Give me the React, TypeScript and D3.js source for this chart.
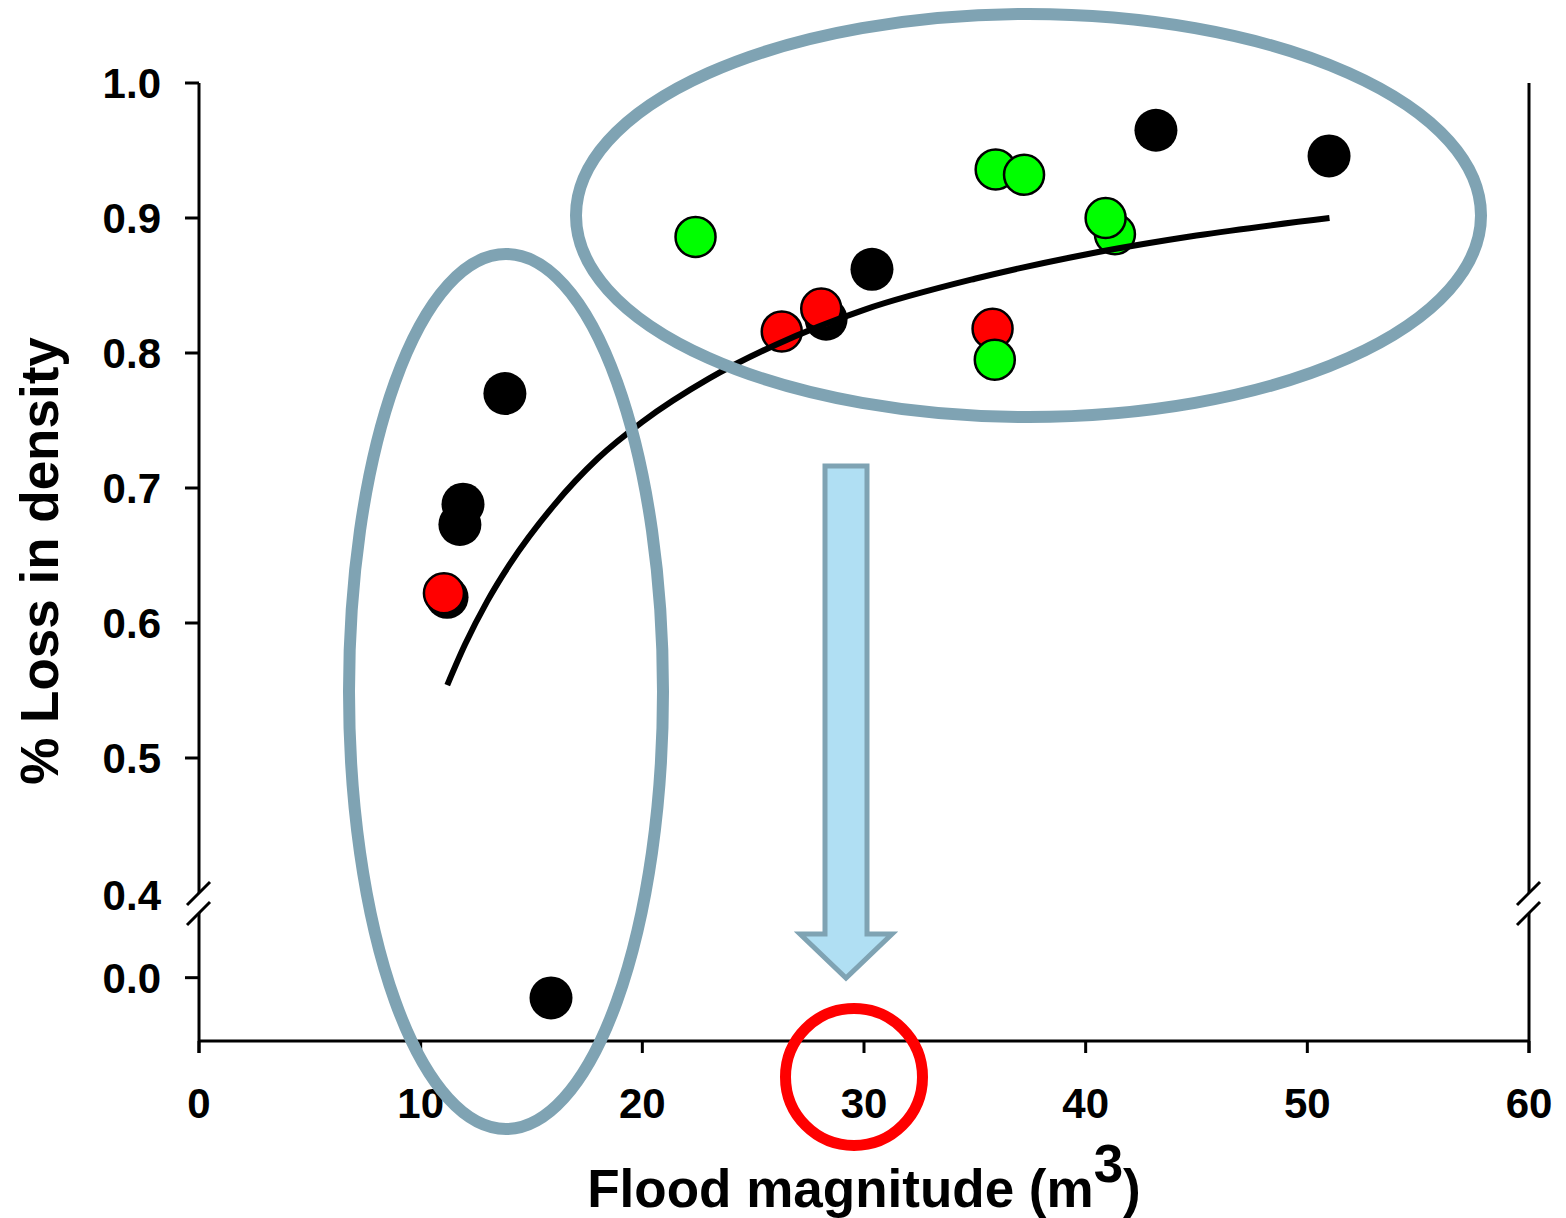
import React from "react";
import * as d3 from "d3";

// ---- data ----
const blackX = [43.17, 50.98, 30.36, 28.29, 13.8, 11.91, 11.77, 11.19, 15.88];
const blackY = [0.965, 0.946, 0.862, 0.825, 0.770, 0.688, 0.673, 0.619, -0.015];
const redX = [26.29, 11.05, 35.8, 28.07];
const redY = [0.816, 0.622, 0.818, 0.833];
const greenX = [22.4, 35.94, 37.22, 41.32, 40.9, 35.9];
const greenY = [0.886, 0.936, 0.932, 0.888, 0.900, 0.795];
const trendX = [11.2, 12, 13, 14, 16, 18, 20, 23, 26, 30, 35, 40, 45, 51];
const trendY = [0.554, 0.584, 0.616, 0.643, 0.687, 0.722, 0.749, 0.781, 0.806, 0.832, 0.855, 0.873, 0.887, 0.9];
const xTicks = [0, 10, 20, 30, 40, 50, 60];
const yTicksTop = [1.0, 0.9, 0.8, 0.7, 0.6, 0.5];
const yTickBreakLabel = 0.4;
const yTicksBottom = [0.0];

const FONT = "'Liberation Sans', Arial, Helvetica, sans-serif";
const ANNOT = "#7fa3b3";

export default function App() {
  const W = 1566, H = 1218;
  const left = 199, right = 1529, top = 83, bottom = 1041;
  const x = d3.scaleLinear().domain([0, 60]).range([left, right]);
  const yTop = d3.scaleLinear().domain([0.4, 1.0]).range([893, top]);
  const yBot = d3.scaleLinear().domain([-0.047, 0.048]).range([bottom, 913]);
  const y = (v: number) => (v >= 0.3 ? yTop(v) : yBot(v));

  const trend = d3
    .line<number>()
    .x((_, i) => x(trendX[i]))
    .y((d) => yTop(d))
    .curve(d3.curveMonotoneX)(trendY) as string;

  const breakTopEnd = 893;
  const breakBotStart = 913;
  const slashes = (ax: number) => (
    <g stroke="#000" strokeWidth={3}>
      <line x1={ax - 12} y1={905} x2={ax + 11} y2={882} />
      <line x1={ax - 12} y1={925} x2={ax + 11} y2={902} />
    </g>
  );

  const dot = (cx: number, cy: number, fill: string, key: string, outlined: boolean) => (
    <circle
      key={key}
      cx={x(cx)}
      cy={y(cy)}
      r={outlined ? 20 : 21.5}
      fill={fill}
      stroke={outlined ? "#000" : "none"}
      strokeWidth={outlined ? 2.5 : 0}
    />
  );

  // arrow geometry
  const ax = 846;
  const arrow = [
    [ax - 21, 466],
    [ax + 21, 466],
    [ax + 21, 934],
    [ax + 46, 934],
    [ax, 978],
    [ax - 46, 934],
    [ax - 21, 934],
  ]
    .map((p) => p.join(","))
    .join(" ");

  return (
    <svg
      width={W}
      height={H}
      style={{ position: "absolute", left: 0, top: 0, background: "#fff" }}
      fontFamily={FONT}
    >
      <rect width={W} height={H} fill="#fff" />
      {/* axes */}
      <g stroke="#000" strokeWidth={3} fill="none">
        <line x1={left} y1={top} x2={left} y2={breakTopEnd} />
        <line x1={left} y1={breakBotStart} x2={left} y2={bottom + 12} />
        <line x1={right} y1={top} x2={right} y2={breakTopEnd} />
        <line x1={right} y1={breakBotStart} x2={right} y2={bottom + 12} />
        <line x1={left} y1={bottom} x2={right} y2={bottom} />
        {xTicks.map((t) => (
          <line key={"xt" + t} x1={x(t)} x2={x(t)} y1={bottom} y2={bottom + 12} />
        ))}
        {yTicksTop.map((t) => (
          <line key={"yt" + t} x1={left - 14} x2={left} y1={yTop(t)} y2={yTop(t)} />
        ))}
        {yTicksBottom.map((t) => (
          <line key={"yb" + t} x1={left - 14} x2={left} y1={yBot(t)} y2={yBot(t)} />
        ))}
      </g>
      {slashes(left)}
      {slashes(right)}
      {/* tick labels */}
      <g fontSize={42} fontWeight="bold" fill="#000">
        {xTicks.map((t) => (
          <text key={"xl" + t} x={x(t)} y={1118} textAnchor="middle">
            {t}
          </text>
        ))}
        {yTicksTop.map((t) => (
          <text key={"yl" + t} x={161} y={yTop(t)} dy="0.36em" textAnchor="end">
            {t.toFixed(1)}
          </text>
        ))}
        <text x={161} y={yTop(yTickBreakLabel) + 2} dy="0.36em" textAnchor="end">
          {yTickBreakLabel.toFixed(1)}
        </text>
        {yTicksBottom.map((t) => (
          <text key={"ylb" + t} x={161} y={yBot(t)} dy="0.36em" textAnchor="end">
            {t.toFixed(1)}
          </text>
        ))}
      </g>
      {/* axis titles */}
      <text x={864} y={1207} textAnchor="middle" fontSize={53} fontWeight="bold">
        Flood magnitude (m
        <tspan dy={-25}>3</tspan>
        <tspan dy={25}>)</tspan>
      </text>
      <text
        transform="translate(58,561) rotate(-90)"
        textAnchor="middle"
        fontSize={53}
        fontWeight="bold"
      >
        % Loss in density
      </text>
      {/* points */}
      <g>
        {blackX.map((v, i) => dot(v, blackY[i], "#000", "b" + i, false))}
        {redX.map((v, i) => dot(v, redY[i], "#ff0000", "r" + i, true))}
        {greenX.map((v, i) => dot(v, greenY[i], "#00ff00", "g" + i, true))}
      </g>
      <path d={trend} fill="none" stroke="#000" strokeWidth={6} />
      {/* annotations */}
      <ellipse cx={506} cy={691.5} rx={157} ry={437.5} fill="none" stroke={ANNOT} strokeWidth={12} />
      <ellipse cx={1028.5} cy={215.5} rx={452.5} ry={201.5} fill="none" stroke={ANNOT} strokeWidth={12} />
      <polygon points={arrow} fill="#b0dff3" stroke={ANNOT} strokeWidth={5} />
      <circle cx={854} cy={1077} r={68.5} fill="none" stroke="#ff0000" strokeWidth={11} />
    </svg>
  );
}
